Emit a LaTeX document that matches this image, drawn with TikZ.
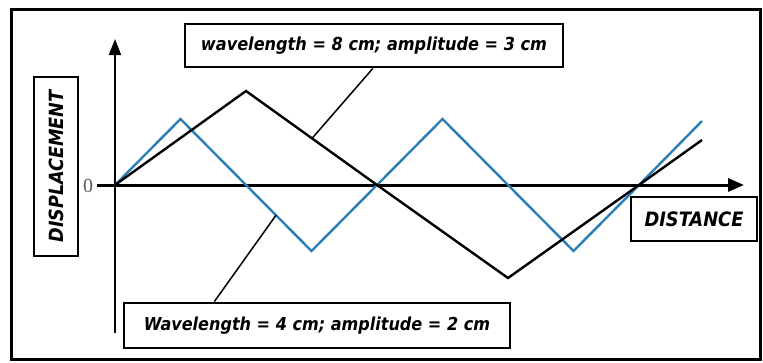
\documentclass[tikz,border=0pt]{standalone}
\usepackage{fontspec}
\usepackage{graphicx}
\setmainfont{Liberation Serif}
\newfontfamily\lblfont{DejaVu Sans Condensed Bold Oblique}
\usetikzlibrary{arrows.meta,calc}
\definecolor{waveblue}{RGB}{42,128,182}
\tikzset{
  lbl/.style={draw=black, line width=2.8pt, fill=white, inner sep=0pt, font=\lblfont},
  wave/.style={line width=2.4pt, line join=miter},
  conn/.style={line width=1.5pt, black},
  xaxisline/.style={line width=3pt, -{Triangle[length=16pt,width=13pt]}},
  yaxisline/.style={line width=2pt, -{Triangle[length=16pt,width=12pt]}},
}
\begin{document}
\begin{tikzpicture}[x=1pt,y=-1pt]
\useasboundingbox (0,0) rectangle (763,362);
\fill[white] (0,0) rectangle (763,362);
% frame
\draw[line width=3pt] (11,9) rectangle (760,359);
% axes
\coordinate (O) at (115,185);
\coordinate (ybot) at (115,333);
\coordinate (ytop) at (115,39);
\coordinate (xleft) at (97,185);
\coordinate (xright) at (744,185);
\draw[yaxisline] (ybot) -- (ytop);
\draw[xaxisline] (xleft) -- (xright);
\node[font=\fontsize{20}{20}\selectfont, text=black!65, inner sep=0pt] (zero) at (88,186) {0};
% blue wave: wavelength 4 cm, amplitude 2 cm
\draw[wave, waveblue] (O) -- (180.5,119) -- (246,185) -- (311.5,251) -- (377,185)
  -- (442.5,119) -- (508,185) -- (573.5,251) -- (639,185) -- (702,121);
% black wave: wavelength 8 cm, amplitude 3 cm
\draw[wave, black] (O) -- (246,91) -- (377,185) -- (508,278) -- (639,185) -- (702,140);
% points on the waves for the connectors
\coordinate (onblack) at (312,138.4);
\coordinate (onblue) at (276,215.2);
% labels
\node[lbl, minimum width=378pt, minimum height=43pt] (topbox) at (374,45.5)
  {\resizebox{346pt}{!}{wavelength = 8 cm; amplitude = 3 cm}};
\node[lbl, minimum width=386pt, minimum height=45pt] (botbox) at (317,325.5)
  {\resizebox{346pt}{!}{Wavelength = 4 cm; amplitude = 2 cm}};
\node[lbl, rotate=90, minimum width=179pt, minimum height=44pt] (dispbox) at (56,166.5)
  {\resizebox{152pt}{!}{DISPLACEMENT}};
\node[lbl, minimum width=126pt, minimum height=44pt] (distbox) at (694,219)
  {\resizebox{99pt}{!}{DISTANCE}};
% connectors
\draw[conn] ($(topbox.south west)!0.497!(topbox.south east)$) -- (onblack);
\draw[conn] ($(botbox.north west)!0.236!(botbox.north east)$) -- (onblue);
\end{tikzpicture}
\end{document}
